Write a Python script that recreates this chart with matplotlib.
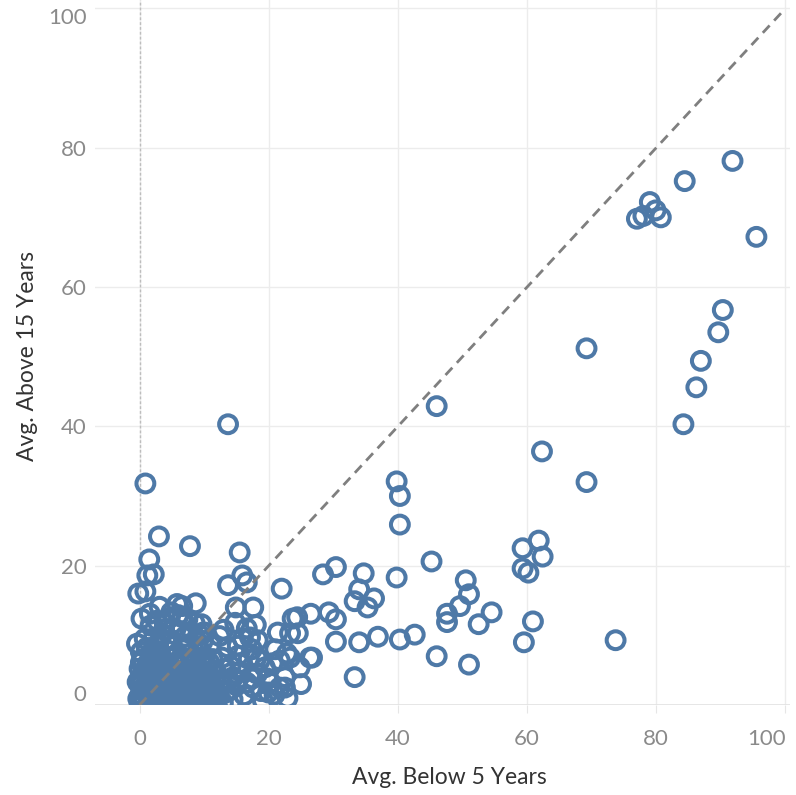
import matplotlib
matplotlib.use("Agg")
import matplotlib.pyplot as plt

# ---- data ----
below5_main = [91.8, 84.4, 79.0, 77.0, 78.0, 79.9, 80.7, 95.5, 90.3, 89.6, 86.9, 86.2, 84.2,
               69.2, 69.2, 62.3, 46.0, 13.7, 0.9, 39.8, 40.3, 40.3, 45.2, 59.3, 61.8, 62.4,
               59.3, 60.2, 60.9, 59.5, 73.7, 39.8, 50.5, 51.0, 49.6, 47.6, 47.6, 54.5, 52.5,
               40.3, 42.6, 36.9, 46.0, 51.0, 34.7, 34.0, 33.3, 36.3, 35.3, 28.4, 30.4, 23.7,
               26.5, 29.3, 30.4, 24.5, 26.7, 30.4, 34.0, 33.3, 22.0, 22.5, 15.5, 15.9, 13.7,
               16.6, 14.9, 17.6, 8.7, 9.8, 16.6, 17.1, 18.3, 15.2, 24.4, 21.4, 23.3,
               26.4, 23.3, 21.7, 24.8, 22.8, 21.7, 19.9, 17.6, 14.0, 14.5, 18.2, 15.5, 18.6,
               3.0, 7.8, 1.5, 2.2, 1.2, -0.2, 0.9, 1.6, 6.6, 2.7, 3.9, 6.6, -0.4, 10.1, 9.4]
above15_main = [78.1, 75.2, 72.2, 69.8, 70.2, 71.0, 70.0, 67.2, 56.7, 53.5, 49.4, 45.6, 40.3,
                51.2, 32.0, 36.4, 42.9, 40.3, 31.8, 32.1, 30.0, 25.9, 20.6, 22.5, 23.6, 21.3,
                19.6, 19.0, 12.0, 9.0, 9.3, 18.3, 17.9, 15.9, 14.2, 13.1, 11.9, 13.3, 11.6,
                9.4, 10.1, 9.8, 7.0, 5.8, 18.9, 16.6, 14.9, 15.3, 14.0, 18.75, 19.8, 12.4,
                13.1, 13.3, 12.3, 10.3, 6.8, 9.1, 9.0, 4.0, 16.7, 2.5, 21.9, 18.6, 17.2,
                17.6, 14.0, 14.0, 14.6, 10.4, 11.0, 9.7, 9.3, 8.5, 12.6, 10.4, 10.3,
                6.8, 6.8, 6.4, 5.4, 7.4, 2.5, 1.8, 2.5, 2.1, 4.0, 4.5, 6.0, 6.4,
                24.2, 22.8, 20.9, 18.75, 18.6, 16.0, 16.3, 13.1, 14.2, 12.1, 11.7, 12.6, 8.8, 10.4, 10.0]

below5_cluster = [0.0, 0.2, 0.1, 0.3, 0.0, 0.4, 0.2, -0.3, -0.2, 0.6,
                  1.0, 1.2, 0.9, 1.3, 1.1, 1.5, 1.8, 1.6, 2.0, 1.9,
                  2.3, 2.5, 2.7, 2.4, 2.8, 2.6, 3.1, 3.3, 3.0, 3.4,
                  3.2, 3.7, 3.9, 3.6, 4.0, 4.2, 4.4, 4.1, 4.6, 4.8,
                  4.7, 5.0, 5.2, 5.3, 5.5, 5.7, 5.6, 5.9, 6.1, 6.3,
                  6.0, 6.5, 6.6, 6.8, 6.7, 7.0, 7.2, 7.3, 7.5, 7.7,
                  7.9, 8.0, 8.2, 8.3, 8.6, 8.8, 8.9, 9.1, 9.3, 9.5,
                  9.7, 9.9, 10.1, 10.2, 10.4, 10.6, 10.9, 11.1, 11.3, 11.5,
                  11.8, 12.0, 12.3, 12.6, 12.9, 13.2, 13.4, 13.8, 14.4, 15.0,
                  15.6, 16.2, 16.9, 17.5, 18.8, 19.4, 20.3, 21.0, 22.5, 25.0,
                  3.5, 5.3, 7.0, 8.5, 2.2, 11.0, 12.4, 6.0, 9.0, 4.5]
above15_cluster = [0.3, 1.5, 2.8, 4.0, 5.2, 6.5, 7.6, 3.3, 0.9, 0.5,
                   2.0, 3.5, 5.0, 6.0, 8.2, 0.8, 2.6, 4.4, 5.6, 7.1,
                   0.2, 1.6, 3.0, 4.8, 6.3, 8.5, 1.0, 2.2, 4.0, 5.3,
                   7.0, 0.5, 3.3, 6.1, 1.8, 4.6, 7.8, 9.3, 0.9, 2.9,
                   5.7, 3.9, 6.8, 1.3, 0.2, 2.4, 4.9, 7.4, 3.2, 5.9,
                   1.0, 0.4, 2.0, 4.2, 8.0, 6.5, 3.0, 1.2, 5.0, 2.2,
                   0.3, 4.0, 6.9, 1.7, 3.1, 5.5, 0.6, 2.6, 4.6, 7.7,
                   1.4, 3.5, 0.2, 5.9, 2.3, 4.1, 1.0, 3.0, 6.6, 0.5,
                   2.0, 4.4, 1.2, 3.2, 0.3, 5.2, 1.8, 3.6, 0.8, 2.8,
                   4.8, 1.4, 6.6, 3.8, 2.0, 5.4, 3.2, 8.0, 4.0, 3.0,
                   10.2, 11.0, 9.8, 11.8, 9.6, 8.6, 9.9, 12.9, 9.0, 12.5]

# the solid core of the cluster near the origin
below5_core = [0.5, 1.8, 3.0, 4.3, 5.8, 7.1, 8.4, 9.8, 11.0,
               0.0, 1.3, 2.6, 3.8, 5.0, 6.3, 7.6, 8.9, 10.3, 11.4,
               0.6, 1.9, 3.2, 4.5, 5.9, 7.3, 8.5, 9.7, 10.8,
               0.1, 1.4, 2.7, 4.0, 5.4, 6.6, 7.9, 9.2, 10.5, 11.6,
               0.7, 2.0, 3.4, 4.7, 6.0, 7.4, 8.7, 10.0, 11.2,
               0.2, 1.6, 2.9, 4.2, 5.5, 6.9, 8.2, 9.5, 10.8,
               0.8, 2.9, 5.0, 7.6, 9.8, 1.7, 3.8, 6.4, 8.2, 0.3, 4.9, 7.4, 9.6, 3.1, 5.8,
               12.8, 13.6, 14.1, 15.3, 16.0, 16.6, 17.4, 18.1, 19.1, 19.8, 20.6, 20.9,
               13.0, 14.8, 18.0, 22.9]
above15_core = [0.0, 0.0, 0.0, 0.0, 0.0, 0.0, 0.0, 0.0, 0.0,
                1.2, 1.2, 1.2, 1.2, 1.2, 1.2, 1.2, 1.2, 1.2, 1.2,
                2.5, 2.5, 2.5, 2.5, 2.5, 2.5, 2.5, 2.5, 2.5,
                3.7, 3.7, 3.7, 3.7, 3.7, 3.7, 3.7, 3.7, 3.7, 3.7,
                4.9, 4.9, 4.9, 4.9, 4.9, 4.9, 4.9, 4.9, 4.9,
                6.1, 6.1, 6.1, 6.1, 6.1, 6.1, 6.1, 6.1, 6.1,
                9.5, 8.8, 9.3, 8.7, 9.2, 11.4, 10.8, 10.6, 10.2, 12.4, 13.3, 12.3, 11.6, 14.1, 14.5,
                6.8, 8.3, 5.6, 7.1, 9.5, 3.2, 8.0, 6.9, 0.6, 3.8, 6.0, 1.5,
                10.8, 11.8, 11.5, 1.0]

below5 = below5_core + below5_cluster + below5_main
above15 = above15_core + above15_cluster + above15_main

x_ticks = [0, 20, 40, 60, 80, 100]
y_ticks = [0, 20, 40, 60, 80, 100]
x_title = "Avg. Below 5 Years"
y_title = "Avg. Above 15 Years"

# ---- figure ----
W, H = 796, 795
fig = plt.figure(figsize=(W / 100, H / 100), dpi=100)
ax = fig.add_axes([95 / W, 1 - 705 / H, 695 / W, 705 / H])
ax.set_xlim(-6.9, 100.7)
ax.set_ylim(0, 101.2)

font = ["Lato", "DejaVu Sans"]
grid_c = "#ececec"
for s in ax.spines.values():
    s.set_visible(False)
ax.set_xticks(x_ticks)
ax.set_yticks(y_ticks)
ax.grid(True, color=grid_c, linewidth=1.0, zorder=0)
ax.set_axisbelow(True)
ax.axhline(0, color="#e2e2e2", linewidth=1.2, zorder=1)

ax.tick_params(axis="x", length=6, width=0.8, color="#e6e6e6", pad=11,
               labelsize=16, labelcolor="#8a8a8a")
ax.tick_params(axis="y", length=0, pad=6, labelsize=16, labelcolor="#8a8a8a")
for lab in ax.get_xticklabels() + ax.get_yticklabels():
    lab.set_family(font)

# edge labels kept inside the axis range (as the reference does)
ylabs = ax.yaxis.get_major_ticks()
ylabs[0].label1.set_verticalalignment("bottom")
ylabs[-1].label1.set_verticalalignment("top")
xlabs = ax.xaxis.get_major_ticks()
xlabs[-1].label1.set_horizontalalignment("right")

# vertical dotted reference line at x = 0
ax.axvline(0, color="#bdbdbd", linewidth=1.0, linestyle=(0, (2, 1.5)), zorder=1)

# scatter
ax.scatter(below5, above15, s=165, facecolors="none", edgecolors="#4E79A7",
           linewidths=2.9, zorder=3, clip_on=True)

# identity line
ax.plot([0, 100], [0, 100], color="#7f7f7f", linewidth=2.0,
        linestyle=(0, (3.6, 2.4)), zorder=4)

fig.text(449 / W, 1 - 778 / H, x_title, ha="center", va="center",
         fontsize=16.5, color="#333333", family=font)
fig.text(28 / W, 1 - 356 / H, y_title, ha="center", va="center", rotation=90,
         fontsize=16.5, color="#333333", family=font)

fig.savefig("out.png", dpi=100, facecolor="white")
